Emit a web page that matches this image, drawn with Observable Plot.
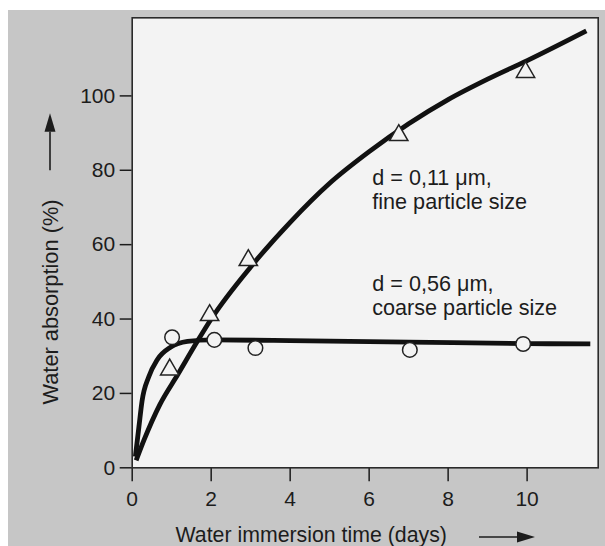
<!DOCTYPE html>
<html><head><meta charset="utf-8">
<script src="https://cdn.jsdelivr.net/npm/d3@7"></script>
<script src="https://cdn.jsdelivr.net/npm/@observablehq/plot@0.6"></script>
<style>
html,body{margin:0;padding:0;background:#fff;}
#chart{position:absolute;left:8px;top:10px;width:597px;height:536px;background:#c6c6c6;overflow:hidden;}
</style></head><body><div id="chart"></div>
<script>
// measured points (days, %)
const fineTime = [0.95, 1.96, 2.94, 6.75, 9.96];
const fineAbs = [26.4, 41.0, 55.8, 89.4, 106.4];
const coarseTime = [1.01, 2.08, 3.12, 7.03, 9.9];
const coarseAbs = [35.1, 34.4, 32.2, 31.7, 33.3];
// fitted curves
const fineCurveTime = [0.1, 0.3, 0.7, 1.15, 1.65, 2.0, 3.0, 4.0, 5.0, 6.0, 7.0, 8.0, 9.0, 10.0, 11.5];
const fineCurveAbs = [2, 7.5, 17, 25, 34, 40, 54, 66, 76.5, 85, 92.5, 99, 104.5, 109.5, 117.5];
const coarseCurveTime = [0.08, 0.17, 0.25, 0.42, 0.63, 0.97, 1.4, 2.0, 4.0, 7.0, 10.0, 11.6];
const coarseCurveAbs = [3, 11, 18, 24.5, 29, 32.4, 34, 34.4, 34.2, 33.8, 33.4, 33.3];
const xTicks = [0, 2, 4, 6, 8, 10];
const yTicks = [0, 20, 40, 60, 80, 100];
const labelTexts = ["d = 0,11 μm,\nfine particle size", "d = 0,56 μm,\ncoarse particle size"];
const labelTime = [6.08, 6.08];
const labelAbs = [69.7, 41.2];
const xTitle = "Water immersion time (days)";
const yTitle = "Water absorption (%)";

const zip = (xs, ys) => xs.map((x, i) => ({x, y: ys[i]}));
const fine = zip(fineTime, fineAbs);
const coarse = zip(coarseTime, coarseAbs);
const fineCurve = zip(fineCurveTime, fineCurveAbs);
const coarseCurve = zip(coarseCurveTime, coarseCurveAbs);
const labels = labelTexts.map((t, i) => ({t, x: labelTime[i], y: labelAbs[i]}));

const W = 597, H = 536, ML = 123.7, MT = 7.3, MR = 7.3, MB = 78.7;
const ink = "#1c1c1c";
const chart = Plot.plot({
  width: W, height: H,
  marginLeft: ML, marginTop: MT, marginRight: MR, marginBottom: MB,
  style: {background: "transparent", fontFamily: "'Liberation Sans', Arial, Helvetica, sans-serif", fontSize: "21px", color: ink, overflow: "visible"},
  x: {domain: [0, 11.8]},
  y: {domain: [0, 121]},
  marks: [
    Plot.frame({fill: "#f3f3f3", stroke: null}),
    Plot.axisX(xTicks, {tickSize: 14, tickPadding: 9, fontSize: 21, strokeWidth: 1.5, label: null}),
    Plot.axisY(yTicks, {tickSize: 12, tickPadding: 5, fontSize: 21, strokeWidth: 1.5, label: null}),
    Plot.line(fineCurve, {x: "x", y: "y", curve: "monotone-x", stroke: "#111", strokeWidth: 4.8, strokeLinecap: "butt"}),
    Plot.line(coarseCurve, {x: "x", y: "y", curve: "monotone-x", stroke: "#111", strokeWidth: 4.8, strokeLinecap: "butt"}),
    Plot.dot(fine, {x: "x", y: "y", symbol: "triangle", r: 6.8, fill: "#f3f3f3", stroke: "#222", strokeWidth: 1.5}),
    Plot.dot(coarse, {x: "x", y: "y", symbol: "circle", r: 7.3, fill: "#f3f3f3", stroke: "#222", strokeWidth: 1.5}),
    Plot.text(labels, {x: "x", y: "y", text: "t", textAnchor: "start", lineAnchor: "bottom", lineHeight: 1.07, fontSize: 21.6, fill: ink}),
    Plot.text([xTitle], {frameAnchor: "bottom-left", dx: 43.3, dy: 74.4, textAnchor: "start", lineAnchor: "bottom", fontSize: 21.3, fill: ink}),
    Plot.text([yTitle], {frameAnchor: "left", dx: -80.7, dy: 59.2, rotate: -90, textAnchor: "middle", fontSize: 21.8, fill: ink}),
    Plot.frame({stroke: "#2a2a2a", strokeWidth: 1.6})
  ]
});
document.getElementById("chart").appendChild(chart);

// axis direction arrows (decoration, placed relative to the frame)
const svg = d3.select(chart);
const g = svg.append("g").attr("fill", ink).attr("stroke", ink);
// y arrow
const yax = ML - 81.7, yTip = MT + 96, yBase = yTip + 18.5, yEnd = yTip + 57;
g.append("line").attr("x1", yax).attr("x2", yax).attr("y1", yEnd).attr("y2", yBase).attr("stroke-width", 1.6);
g.append("path").attr("stroke", "none").attr("d", `M${yax},${yTip}L${yax - 5.5},${yBase}L${yax + 5.5},${yBase}Z`);
// x arrow
const xy = H - MB + 69.7, xTip = W - MR - 62.7, xBase = xTip - 18, xStart = xTip - 56;
g.append("line").attr("x1", xStart).attr("x2", xBase).attr("y1", xy).attr("y2", xy).attr("stroke-width", 1.6);
g.append("path").attr("stroke", "none").attr("d", `M${xTip},${xy}L${xBase},${xy - 5.5}L${xBase},${xy + 5.5}Z`);
</script></body></html>
